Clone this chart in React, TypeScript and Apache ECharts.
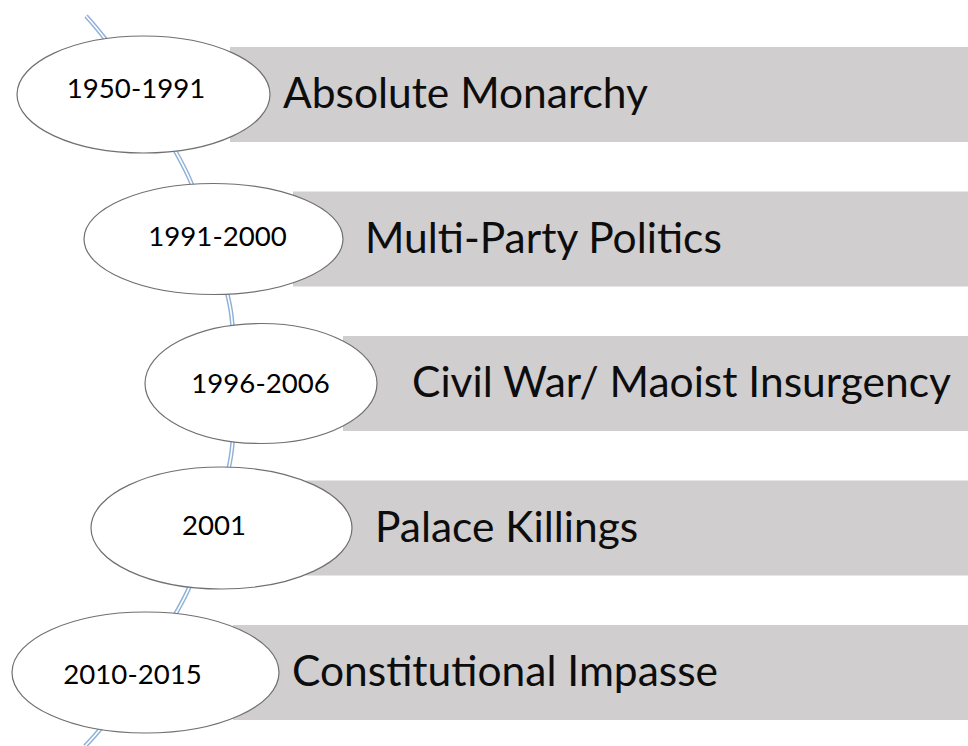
import React, { useEffect, useRef } from "react";
import * as echarts from "echarts";

// ---- content ----
const periods = ["1950-1991", "1991-2000", "1996-2006", "2001", "2010-2015"];
const events = [
  "Absolute Monarchy",
  "Multi-Party Politics",
  "Civil War/ Maoist Insurgency",
  "Palace Killings",
  "Constitutional Impasse",
];

// ---- layout (x in pixels, y in row units) ----
const nodeX = [143.5, 213.5, 261, 221.5, 145.5];
const nodeRx = [126.5, 129.5, 116, 130.5, 133.5];
const nodeRy = [58.5, 55.5, 60, 61, 60.5];
const yearX = [136, 217.5, 260.5, 214, 132.5];
const yearDy = [-7, -4, -1.5, -3.5, 0.5];
const barLeft = [230, 293, 343, 306, 233];
const eventX = [283, 365, 412, 375, 292];
const spineX = [86, 143, 211, 234, 211, 141, 85];
const spineRow = [-0.543, 0, 1, 2, 3, 4, 4.51];

const W = 968;
const H = 746;
const ROW0 = 94.5;
const PITCH = 144.5;
const BAR_H = 95;
const FONT = "Lato, 'Open Sans', sans-serif";

export default function App() {
  const ref = useRef<HTMLDivElement>(null);

  useEffect(() => {
    if (!ref.current) return;
    const chart = echarts.init(ref.current, null, { renderer: "svg" });

    const rowData = events.map((e, i) => [barLeft[i], i]);
    const nodeData = periods.map((p, i) => [nodeX[i], i]);
    const spineData = spineX.map((x, i) => [x, spineRow[i]]);

    chart.setOption({
      animation: false,
      backgroundColor: "#ffffff",
      grid: { left: 0, right: 0, top: 0, bottom: 0 },
      xAxis: { type: "value", min: 0, max: W, show: false },
      yAxis: {
        type: "value",
        inverse: true,
        min: -ROW0 / PITCH,
        max: (H - ROW0) / PITCH,
        show: false,
      },
      series: [
        {
          type: "custom",
          z: 1,
          data: rowData,
          renderItem: (params: any, api: any) => {
            const i = params.dataIndex;
            const p = api.coord([api.value(0), api.value(1)]);
            const right = params.coordSys.x + params.coordSys.width;
            const tx = api.coord([eventX[i], i])[0];
            return {
              type: "group",
              children: [
                {
                  type: "rect",
                  shape: { x: p[0], y: p[1] - BAR_H / 2, width: right - p[0], height: BAR_H },
                  style: { fill: "#D0CECF" },
                },
                {
                  type: "text",
                  x: tx,
                  y: p[1] - 3,
                  style: {
                    text: events[i],
                    fontSize: 42.5,
                    fontFamily: FONT,
                    fill: "#0d0d0d",
                    align: "left",
                    verticalAlign: "middle",
                    textAlign: "left",
                    textVerticalAlign: "middle",
                  },
                },
              ],
            };
          },
        },
        {
          type: "line",
          z: 2,
          data: spineData,
          smooth: true,
          symbol: "none",
          lineStyle: { color: "#8FB1D8", width: 4.5 },
        },
        {
          type: "line",
          z: 2,
          data: spineData,
          smooth: true,
          symbol: "none",
          lineStyle: { color: "#ffffff", width: 1.6 },
        },
        {
          type: "custom",
          z: 3,
          data: nodeData,
          renderItem: (params: any, api: any) => {
            const i = params.dataIndex;
            const p = api.coord([api.value(0), api.value(1)]);
            const ty = api.coord([0, i])[1] + yearDy[i];
            const tx = api.coord([yearX[i], i])[0];
            return {
              type: "group",
              children: [
                {
                  type: "ellipse",
                  shape: { cx: p[0], cy: p[1], rx: nodeRx[i], ry: nodeRy[i] },
                  style: { fill: "#ffffff", stroke: "#707070", lineWidth: 1.2 },
                },
                {
                  type: "text",
                  x: tx,
                  y: ty,
                  style: {
                    text: periods[i],
                    fontSize: 27.6,
                    fontFamily: FONT,
                    fill: "#000000",
                    align: "center",
                    verticalAlign: "middle",
                    textAlign: "center",
                    textVerticalAlign: "middle",
                  },
                },
              ],
            };
          },
        },
      ],
    });

    return () => chart.dispose();
  }, []);

  return (
    <div
      ref={ref}
      style={{ position: "absolute", left: 0, top: 0, width: W, height: H, background: "#fff" }}
    />
  );
}
